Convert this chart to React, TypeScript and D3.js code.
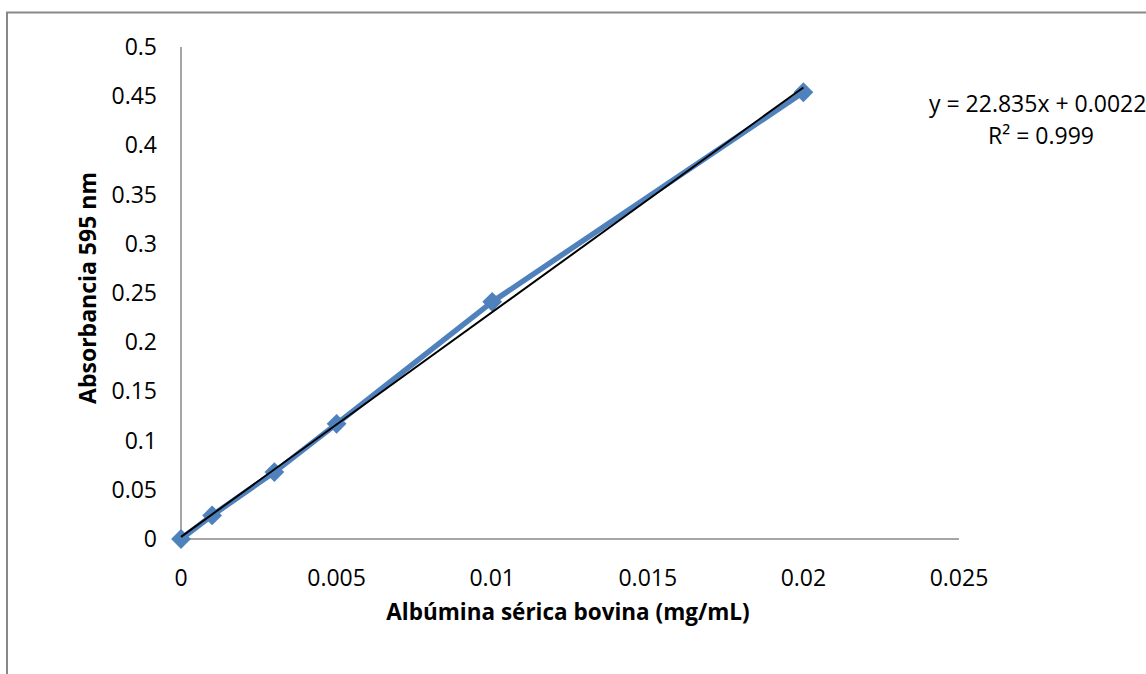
import React from "react";
import * as d3 from "d3";

const concentrations = [0, 0.001, 0.003, 0.005, 0.01, 0.02];
const absorbances = [0, 0.024, 0.068, 0.117, 0.241, 0.454];
const xTicks = [0, 0.005, 0.01, 0.015, 0.02, 0.025];
const yTicks = [0, 0.05, 0.1, 0.15, 0.2, 0.25, 0.3, 0.35, 0.4, 0.45, 0.5];
const slope = 22.835;
const intercept = 0.0022;
const equationText = "y = 22.835x + 0.0022";
const r2Text = "R² = 0.999";
const xTitle = "Albúmina sérica bovina (mg/mL)";
const yTitle = "Absorbancia 595 nm";

const W = 1146;
const H = 674;
const FONT = "'Open Sans', 'Liberation Sans', sans-serif";

export default function App() {
  const x = d3.scaleLinear().domain([0, 0.025]).range([181, 959]);
  const y = d3.scaleLinear().domain([0, 0.5]).range([539, 47]);
  const pts = concentrations.map((c, i) => [c, absorbances[i]] as [number, number]);
  const line = d3.line<[number, number]>().x((d) => x(d[0])).y((d) => y(d[1]));
  const trend: [number, number][] = [
    [0, intercept],
    [0.02, slope * 0.02 + intercept],
  ];
  const diamond = d3.symbol().type(d3.symbolDiamond2).size(250)();
  const fmt = (v: number) => String(+v.toFixed(4));

  return (
    <svg
      width={W}
      height={H}
      style={{ position: "absolute", left: 0, top: 0, background: "#fff" }}
      fontFamily={FONT}
    >
      <rect x={0} y={0} width={W} height={H} fill="#fff" />
      <path d={`M7,${H} V12.5 H${W}`} fill="none" stroke="#888" strokeWidth={2} />
      {/* axes */}
      <line x1={x(0)} x2={x(0)} y1={y(0.5)} y2={y(0)} stroke="#888" strokeWidth={1.5} />
      <line x1={x(0)} x2={x(0.025)} y1={y(0)} y2={y(0)} stroke="#888" strokeWidth={1.5} />
      {yTicks.map((t) => (
        <text key={"y" + t} x={157} y={y(t)} dy="0.35em" textAnchor="end" fontSize={23} fill="#000">
          {fmt(t)}
        </text>
      ))}
      {xTicks.map((t) => (
        <text key={"x" + t} x={x(t)} y={578} dy="0.35em" textAnchor="middle" fontSize={23} fill="#000">
          {fmt(t)}
        </text>
      ))}
      <text x={568} y={612} dy="0.35em" textAnchor="middle" fontSize={22.5} fontWeight="bold" fill="#000">
        {xTitle}
      </text>
      <text
        transform={`translate(88,${288}) rotate(-90)`}
        dy="0.35em"
        textAnchor="middle"
        fontSize={23}
        fontWeight="bold"
        fill="#000"
      >
        {yTitle}
      </text>
      {/* series */}
      <path d={line(pts) || ""} fill="none" stroke="#4F81BD" strokeWidth={5.5} strokeLinejoin="round" />
      {pts.map((p, i) => (
        <path key={i} d={diamond || ""} transform={`translate(${x(p[0])},${y(p[1])})`} fill="#4F81BD" />
      ))}
      <path d={line(trend) || ""} fill="none" stroke="#000" strokeWidth={2} />
      <text x={929} y={104} dy="0.35em" textAnchor="start" fontSize={23} fill="#000">
        {equationText}
      </text>
      <text x={1041} y={136} dy="0.35em" textAnchor="middle" fontSize={23} fill="#000">
        {r2Text}
      </text>
    </svg>
  );
}
